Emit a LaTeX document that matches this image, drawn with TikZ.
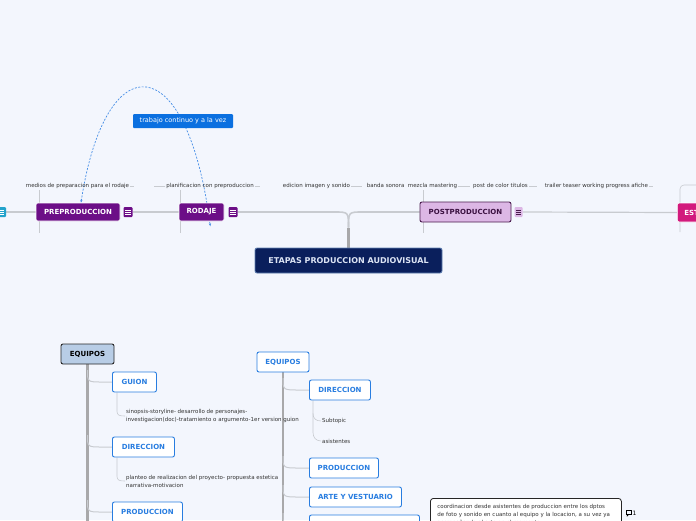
\documentclass[tikz,border=0pt]{standalone}
\usepackage{fontspec}
\setmainfont{DejaVu Sans}
\usetikzlibrary{arrows.meta, positioning}
\definecolor{bgpage}{RGB}{243, 246, 253}
\definecolor{navybox}{RGB}{10, 31, 92}
\definecolor{navyedge}{RGB}{96, 128, 178}
\definecolor{navytext}{RGB}{220, 228, 244}
\definecolor{plumbox}{RGB}{108, 14, 135}
\definecolor{lilacbox}{RGB}{220, 183, 229}
\definecolor{lilacedge}{RGB}{74, 28, 78}
\definecolor{lilactext}{RGB}{58, 16, 64}
\definecolor{magentabox}{RGB}{210, 26, 125}
\definecolor{cyanicon}{RGB}{35, 163, 204}
\definecolor{linkblue}{RGB}{11, 112, 224}
\definecolor{dashblue}{RGB}{70, 142, 230}
\definecolor{topicblue}{RGB}{40, 125, 224}
\definecolor{steelbox}{RGB}{184, 205, 230}
\definecolor{greyline}{RGB}{200, 203, 208}
\definecolor{greytrunk}{RGB}{168, 168, 170}
\definecolor{labeltext}{RGB}{51, 51, 51}
\pgfdeclarelayer{canvas}
\pgfdeclarelayer{wires}
\pgfsetlayers{canvas,wires,main}
\tikzset{
    stage/.style={rectangle, draw=white, fill=plumbox, text=white, line width=0.6pt, rounded corners=2pt, minimum height=18pt, inner sep=0pt, font=\fontsize{7}{8}\selectfont\bfseries},
    menuicon/.style={rectangle, rounded corners=1pt, minimum width=9pt, minimum height=10pt, inner sep=0pt, path picture={\foreach \dy in {-2.2,0,2.2} \draw[#1, line width=0.6pt] ([xshift=-2.6pt,yshift=\dy pt]path picture bounding box.center) -- ++(5.2pt,0pt);}},
    topic/.style={rectangle, draw=topicblue, fill=white, text=topicblue, line width=0.9pt, rounded corners=2pt, minimum height=20pt, inner sep=0pt, font=\fontsize{7}{8}\selectfont\bfseries},
    sublabel/.style={text=labeltext, inner sep=1pt, font=\fontsize{5.5}{6}\selectfont},
    notetext/.style={text=labeltext, inner sep=1pt, align=left, font=\fontsize{5.5}{8}\selectfont},
    linkbox/.style={rectangle, fill=linkblue, text=white, rounded corners=1pt, minimum width=100pt, minimum height=14pt, inner sep=0pt, font=\fontsize{6.5}{7}\selectfont},
    mainline/.style={greyline, line width=1.2pt},
    subline/.style={greyline, line width=0.6pt},
    trunk/.style={greytrunk, line width=2.5pt},
    branch/.style={greyline, line width=1pt},
    dashlink/.style={dashblue, line width=0.7pt, dash pattern=on 2pt off 1.5pt, {Stealth[length=3pt]}-{Stealth[length=3pt]}}
}
\begin{document}
\begin{tikzpicture}[x=1pt, y=-1pt]
    \useasboundingbox (0,0) rectangle (696,520);
    \clip (0,0) rectangle (696,520);
    \begin{pgfonlayer}{canvas}
        \fill[bgpage] (0,0) rectangle (696,520);
    \end{pgfonlayer}

    % central topic and the stages
    \node (root) [rectangle, draw=navyedge, fill=navybox, text=navytext, line width=0.8pt, rounded corners=2pt, minimum width=187pt, minimum height=25pt, font=\fontsize{8}{9}\selectfont\bfseries] at (348.5,260.5) {ETAPAS PRODUCCION AUDIOVISUAL};

    \node (leftic) [menuicon=white, fill=cyanicon] at (1.5,212) {};
    \node (pre) [stage, minimum width=84pt] at (78,212) {PREPRODUCCION};
    \node (preic) [menuicon=white, fill=plumbox, right=3pt of pre] {};
    \node (rod) [stage, minimum width=45pt] at (201.5,212) {RODAJE};
    \node (rodic) [menuicon=white, fill=plumbox, right=4pt of rod] {};
    \node (post) [stage, fill=lilacbox, draw=lilacedge, text=lilactext, line width=0.9pt, minimum width=91pt, minimum height=20pt] at (465.5,212) {POSTPRODUCCION};
    \node (postic) [menuicon=lilacedge, fill=lilacbox, minimum width=8pt, right=3pt of post] {};
    \node (est) [stage, fill=magentabox, anchor=west, minimum height=19pt, inner xsep=7pt] at (677,212.5) {EST};

    % subtopics of the stages
    \node (lblmedios) [sublabel] at (77.5,186) {medios de preparacion para el rodaje};
    \node (lblplan) [sublabel] at (210,186) {planificacion con preproduccion};
    \node (lbledit) [sublabel] at (316.5,186) {edicion imagen y sonido};
    \node (lblbanda) [sublabel] at (412,186) {banda sonora~ mezcla mastering};
    \node (lblcolor) [sublabel] at (500.5,186) {post de color titulos};
    \node (lbltrailer) [sublabel] at (596.5,186) {trailer teaser working progress afiche};
    \coordinate (estcorner) at (680,185);

    \node (linklbl) [linkbox] at (183,121) {trabajo continuo y a la vez};

    % equipos (left)
    \node (eqleft) [rectangle, draw=black!85, fill=steelbox, text=black, line width=0.9pt, rounded corners=2pt, minimum width=53pt, minimum height=20pt, font=\fontsize{7}{8}\selectfont\bfseries] at (87.5,354) {EQUIPOS};
    \node (guion) [topic, minimum width=44pt, anchor=west] at (112,382) {GUION};
    \node (guiontxt) [notetext, anchor=west] at (125,416) {sinopsis-storyline- desarrollo de personajes-\\investigacion(doc)-tratamiento o argumento-1er version guion};
    \node (dirleft) [topic, minimum width=62pt, anchor=west] at (112,447) {DIRECCION};
    \node (dirtxt) [notetext, anchor=west] at (125,481) {planteo de realizacion del proyecto- propuesta estetica\\narrativa-motivacion};
    \node (prodleft) [topic, minimum width=70pt, anchor=west] at (112,512) {PRODUCCION};

    % equipos (middle)
    \node (eqmid) [topic, minimum width=52pt] at (283,362) {EQUIPOS};
    \node (dirmid) [topic, minimum width=61pt, anchor=west] at (309,390) {DIRECCION};
    \node (subtopic) [sublabel, anchor=west] at (321,421) {Subtopic};
    \node (asist) [sublabel, anchor=west] at (321,441) {asistentes};
    \node (prodmid) [topic, minimum width=69pt, anchor=west] at (309,468) {PRODUCCION};
    \node (artemid) [topic, minimum width=92pt, anchor=west] at (309,497) {ARTE Y VESTUARIO};
    \node (lastmid) [topic, minimum width=110pt, anchor=west] at (309,525) {};

    \node (coordnote) [rectangle, draw=black!85, fill=white, line width=0.8pt, rounded corners=3pt, anchor=north west, inner xsep=7pt, inner ysep=6pt, text width=177pt, align=left, text=labeltext, font=\fontsize{5.5}{8}\selectfont] at (430,498) {coordinacion desde asistentes de produccion entre los dptos\\de foto y sonido en cuanto al equipo y la locacion, a su vez ya\\acompañando al arte en el momento};
    \draw[black, line width=0.5pt] (626,510.5) rectangle (631,514.5);
    \draw[black, line width=0.5pt] (627,514.5) -- (627,516.2) -- (628.7,514.5);
    \node (cmtcount) [inner sep=0pt, font=\fontsize{6}{7}\selectfont] at (634.5,513) {1};

    \begin{pgfonlayer}{wires}
        % backbone
        \draw[trunk] (root.north) -- ++(0,-20) coordinate (fork);
        \draw[mainline] (leftic.east) -- (pre.west);
        \draw[mainline] (preic.east) -- (rod.west);
        \draw[mainline, line width=1.6pt] (rodic.east) -- ([xshift=-14pt]fork |- rod.west) .. controls (fork |- rod.west) .. (fork);
        \draw[mainline, line width=1.6pt] (post.west) -- ([xshift=14pt]fork |- rod.west) .. controls (fork |- rod.west) .. (fork);
        \draw[mainline] (postic.east) -- (est.west);

        % subtopic lines
        \draw[subline] (lblmedios.east) -- ++(4,0);
        \draw[subline] (lblplan.west) -- ++(-11,0);
        \draw[subline] (lblplan.east) -- ++(5,0);
        \draw[subline] (lbledit.east) -- ++(11,0);
        \draw[subline] (lblbanda.east) -- ++(12,0);
        \draw[subline] (lblcolor.east) -- ++(8,0);
        \draw[subline] (lbltrailer.east) -- ++(4,0);
        \foreach \n/\dx in {pre/4, rod/2, post/4}
            \draw[subline] ([xshift=\dx pt]\n.west |- lblmedios.south) -- ++(0,43);
        \draw[subline, rounded corners=4pt] (estcorner) ++(20,0) -- (estcorner) -- ++(0,47);

        \draw[dashlink] ([xshift=3pt]pre.north) .. controls (105,45) and (187,45) .. ([xshift=-14pt,yshift=-5pt]rod.south east);

        % equipos trees
        \draw[trunk] (eqleft.south) -- ++(0,170);
        \foreach \c in {guion,dirleft,prodleft}
            \draw[branch] ([yshift=12pt]eqleft.south |- \c.west) .. controls (eqleft.south |- \c.west) .. ([xshift=-10pt]\c.west) -- (\c.west);
        \draw[subline] ([xshift=5pt]guion.south west) -- ++(0,19) .. controls +(0,4) and +(-5,0) .. (guiontxt.west);
        \draw[subline] ([xshift=5pt]dirleft.south west) -- ++(0,19) .. controls +(0,4) and +(-5,0) .. (dirtxt.west);

        \draw[trunk] (eqmid.south) -- ++(0,160);
        \foreach \c in {dirmid,prodmid,artemid,lastmid}
            \draw[branch] ([yshift=12pt]eqmid.south |- \c.west) .. controls (eqmid.south |- \c.west) .. ([xshift=-10pt]\c.west) -- (\c.west);
        \draw[subline] ([xshift=4pt]dirmid.south west) -- ++(0,32) .. controls +(0,5) and +(-5,0) .. (asist.west);
        \draw[subline] ([xshift=4pt]dirmid.south west) ++(0,13) .. controls +(0,5) and +(-5,0) .. (subtopic.west);
    \end{pgfonlayer}
\end{tikzpicture}
\end{document}
